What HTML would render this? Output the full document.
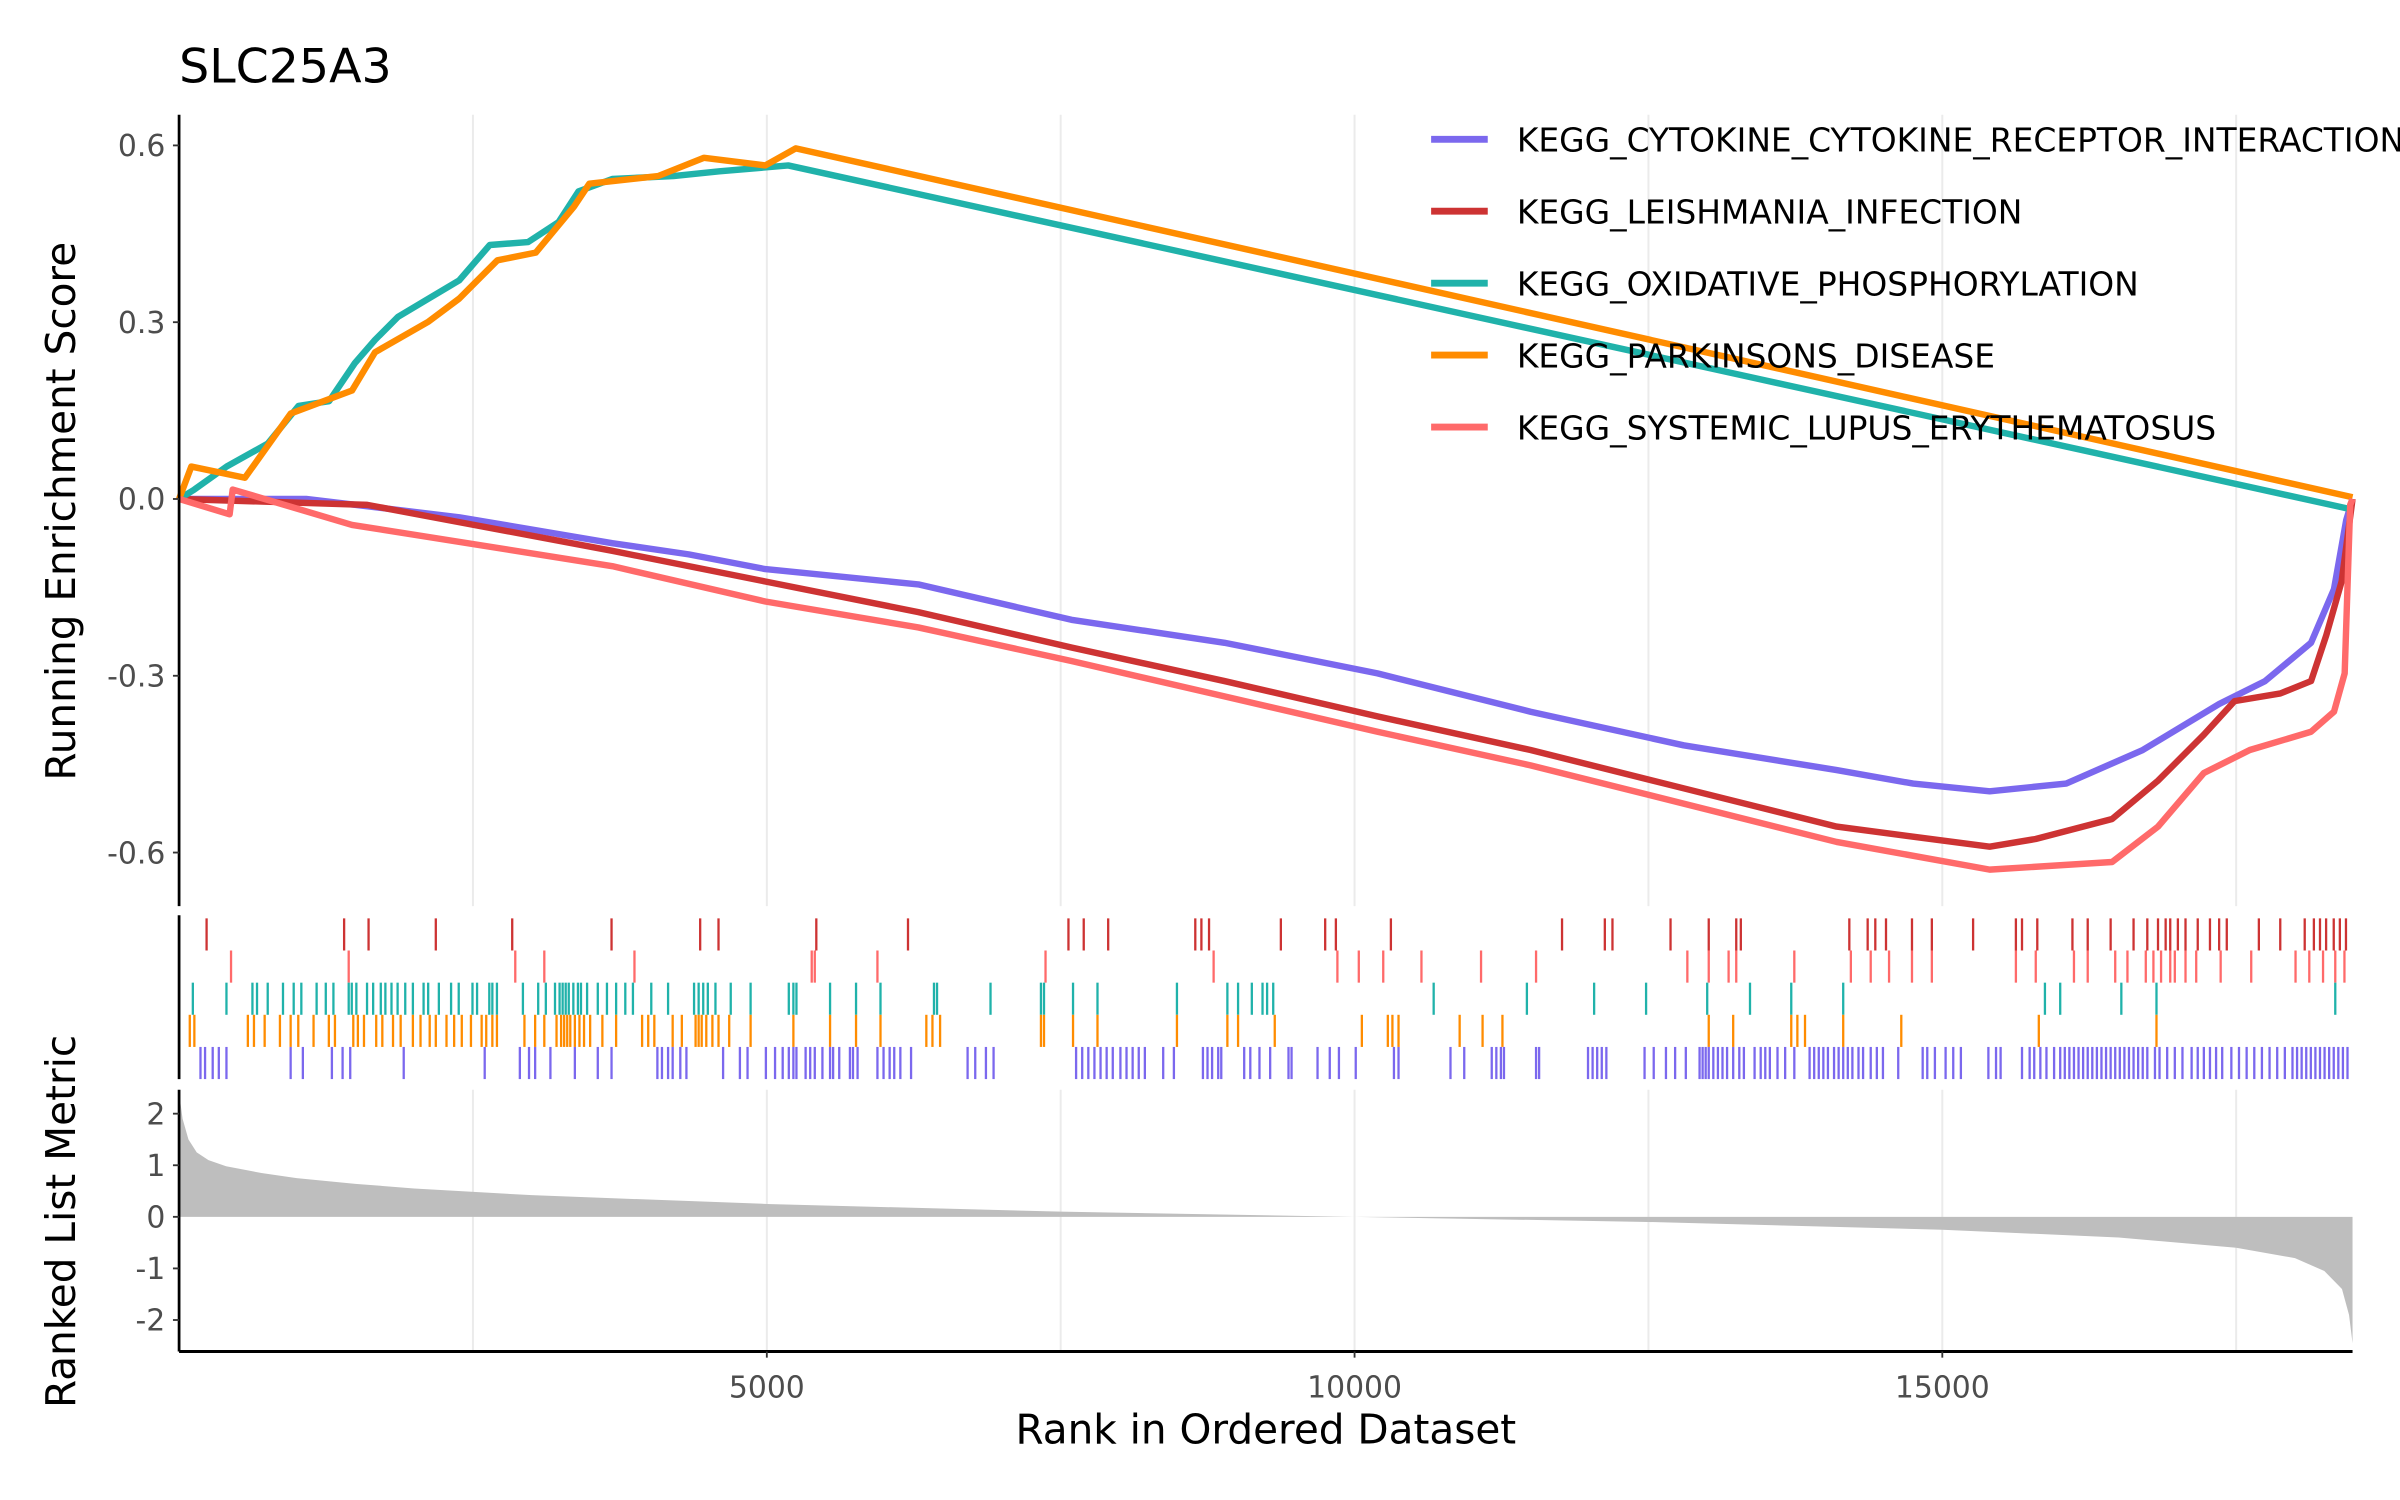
<!DOCTYPE html>
<html><head><meta charset="utf-8"><style>
html,body{margin:0;padding:0;background:#fff;overflow:hidden;}
svg{display:block;font-family:"DejaVu Sans","Liberation Sans",sans-serif;}
</style></head><body>
<svg id="chart" width="2400" height="1500" viewBox="0 0 1568 980" xmlns="http://www.w3.org/2000/svg">
<g id="grid"></g>
<g id="rug"></g>
<g id="metric"></g>
<g id="curves"></g>
<g id="axes"></g>
<g id="legend"></g>
<text x="117" y="54" font-size="31" fill="#000">SLC25A3</text>
<text transform="translate(49,334) rotate(-90)" text-anchor="middle" font-size="26.5" fill="#000">Running Enrichment Score</text>
<text transform="translate(49,798) rotate(-90)" text-anchor="middle" font-size="26.5" fill="#000">Ranked List Metric</text>
<text x="827" y="943" text-anchor="middle" font-size="26.5" fill="#000">Rank in Ordered Dataset</text>
</svg>
<script>
const seriesNames = ["KEGG_CYTOKINE_CYTOKINE_RECEPTOR_INTERACTION","KEGG_LEISHMANIA_INFECTION","KEGG_OXIDATIVE_PHOSPHORYLATION","KEGG_PARKINSONS_DISEASE","KEGG_SYSTEMIC_LUPUS_ERYTHEMATOSUS"];
const seriesColors = ["#7B68EE","#CD3333","#20B2AA","#FF8C00","#FF6A6A"];
const xTicks = [5000,10000,15000];
const xGrid = [2500,5000,7500,10000,12500,15000,17500];
const esTicks = [0.6,0.3,0.0,-0.3,-0.6];
const esTickLabels = ["0.6","0.3","0.0","-0.3","-0.6"];
const metricTicks = [2,1,0,-1,-2];
const nGenes = 18490;

const purpleRank = [0,1081,2383,3685,4336,4987,6289,7591,8893,10195,11497,12799,14101,14752,15403,16054,16705,17355,17746,18137,18332,18436,18490];
const purpleES = [0,0,-0.031,-0.075,-0.094,-0.119,-0.145,-0.205,-0.244,-0.296,-0.361,-0.418,-0.460,-0.483,-0.496,-0.483,-0.426,-0.348,-0.309,-0.244,-0.153,-0.036,0];
const redRank = [0,1601,3685,4987,6289,7591,8893,10195,11497,12799,14101,15403,15794,16445,16835,17225,17486,17876,18137,18267,18397,18490];
const redES = [0,-0.010,-0.088,-0.140,-0.192,-0.252,-0.309,-0.369,-0.426,-0.491,-0.556,-0.590,-0.577,-0.543,-0.478,-0.400,-0.343,-0.330,-0.309,-0.231,-0.140,0];
const tealRank = [0,130,404,755,1016,1276,1497,1667,1862,2122,2383,2643,2969,3229,3398,3685,4206,4596,5182,18490];
const tealES = [0,0.016,0.055,0.094,0.158,0.166,0.231,0.270,0.309,0.340,0.371,0.431,0.436,0.470,0.522,0.543,0.548,0.556,0.566,-0.018];
const orangeRank = [0,104,560,950,1471,1667,2122,2383,2708,3034,3359,3490,4075,4466,4987,5247,18490];
const orangeES = [0,0.055,0.036,0.145,0.184,0.249,0.301,0.340,0.405,0.418,0.496,0.535,0.548,0.579,0.566,0.595,0.003];
const pinkRank = [0,430,456,1471,3685,4987,6289,7591,8893,10195,11497,12799,14101,15403,16445,16835,17225,17616,18137,18332,18423,18470,18490];
const pinkES = [0,-0.026,0.016,-0.044,-0.114,-0.174,-0.218,-0.275,-0.335,-0.395,-0.452,-0.517,-0.582,-0.629,-0.616,-0.556,-0.465,-0.426,-0.395,-0.361,-0.296,-0.010,0];

const redHits = [234,1404,1612,2184,2834,3679,4433,4589,5421,6201,7566,7696,7904,8645,8697,8762,9373,9750,9841,10309,11765,12129,12194,12688,13013,13247,13286,14209,14365,14430,14521,14742,14911,15262,15626,15678,15808,16107,16237,16432,16627,16744,16835,16900,16939,17004,17069,17173,17277,17355,17420,17693,17875,18083,18161,18213,18265,18330,18382,18434];
const pinkHits = [442,1443,2860,3107,3874,5382,5408,5941,7371,8801,9854,10036,10244,10569,11076,11544,12831,13013,13182,13247,13741,14222,14391,14547,14742,14911,15626,15795,16120,16237,16471,16575,16731,16796,16861,16939,16978,17069,17160,17368,17628,18005,18122,18239,18343,18421];
const tealHits = [117,403,624,663,754,884,975,1040,1170,1248,1313,1443,1469,1508,1599,1651,1716,1755,1807,1859,1924,1989,2080,2119,2210,2314,2379,2496,2535,2639,2665,2704,2925,3055,3120,3198,3237,3263,3289,3315,3354,3393,3419,3471,3562,3640,3718,3796,3861,4017,4160,4381,4420,4459,4498,4563,4693,4862,5187,5226,5252,5538,5759,5967,6422,6448,6903,7332,7358,7605,7813,8489,8918,9009,9126,9217,9256,9308,10673,11466,12038,12480,13000,13364,13715,14157,15873,16003,16523,16822,18343];
const orangeHits = [91,130,585,637,728,858,949,1014,1144,1274,1326,1482,1521,1573,1677,1729,1820,1885,1989,2054,2132,2184,2275,2340,2405,2483,2574,2613,2665,2704,2938,3029,3107,3211,3250,3276,3302,3328,3367,3406,3445,3497,3601,3718,3939,3991,4043,4199,4277,4394,4420,4446,4485,4537,4589,4680,4862,5226,5538,5759,5967,6357,6409,6474,7332,7358,7605,7813,8489,8918,9009,9321,10062,10283,10322,10374,10894,11089,11258,13013,13221,13715,13767,13832,14157,14651,15821,16822];
const purpleHits = [182,221,286,338,403,949,1053,1300,1391,1456,1911,2600,2899,2977,3029,3159,3367,3562,3679,4069,4108,4160,4199,4264,4316,4628,4771,4836,4992,5070,5135,5187,5226,5252,5330,5369,5408,5473,5538,5564,5616,5707,5733,5772,5941,5993,6045,6084,6136,6227,6708,6773,6864,6929,7631,7683,7735,7787,7839,7891,7943,8008,8060,8112,8164,8216,8372,8463,8710,8749,8788,8840,8866,9061,9113,9191,9282,9438,9464,9685,9789,9867,10010,10335,10374,10816,10933,11167,11206,11245,11271,11544,11570,11986,12025,12064,12103,12142,12467,12545,12649,12727,12818,12935,12961,12987,13013,13052,13091,13130,13169,13221,13273,13312,13403,13455,13494,13533,13598,13663,13741,13871,13910,13949,13988,14027,14079,14118,14157,14196,14235,14287,14326,14391,14443,14495,14625,14833,14872,14937,15028,15093,15158,15392,15457,15496,15678,15743,15782,15834,15886,15951,16003,16042,16081,16120,16159,16198,16237,16276,16315,16354,16393,16432,16471,16510,16549,16588,16627,16666,16705,16744,16809,16848,16913,16978,17043,17121,17173,17225,17277,17329,17381,17459,17524,17589,17654,17719,17784,17849,17914,17979,18018,18057,18096,18135,18174,18213,18252,18291,18330,18369,18408,18447];

const metricRank = [0,30,80,150,250,400,700,1000,1500,2000,3000,5000,7500,10000,12500,15000,16500,17500,18000,18250,18400,18460,18490];
const metricValue = [2.4,1.9,1.5,1.25,1.1,0.98,0.85,0.75,0.64,0.55,0.42,0.25,0.1,0.0,-0.1,-0.25,-0.4,-0.6,-0.8,-1.05,-1.4,-1.9,-2.45];

const NS="http://www.w3.org/2000/svg";
const X0=117, X1=1537, ES_TOP=75, ES_BOT=592, RUG_TOP=598, RUG_BOT=705, M_TOP=712, M_BOT=883;
function xs(r){return X0 + r/nGenes*(X1-X0);}
function yes(v){return 326 - v*385;}
function ym(v){return 795 - v*33.7;}
function mk(tag, attrs, parent){const e=document.createElementNS(NS,tag);for(const k in attrs)e.setAttribute(k,attrs[k]);parent.appendChild(e);return e;}

const grid=document.getElementById('grid');
xGrid.forEach(g=>{
  const l1=mk('line',{x1:xs(g),x2:xs(g),y1:ES_TOP,y2:ES_BOT,stroke:'#EBEBEB','stroke-width':1.3},grid);
  
  
  const l2=mk('line',{x1:xs(g),x2:xs(g),y1:M_TOP,y2:M_BOT,stroke:'#EBEBEB','stroke-width':1.3},grid);
  
  
});

const rug=document.getElementById('rug');
const rugRows=[[redHits,1],[pinkHits,4],[tealHits,2],[orangeHits,3],[purpleHits,0]];
const rowH=(RUG_BOT-600)/5;
rugRows.forEach((row,i)=>{
  const hits=row[0], col=seriesColors[row[1]];
  const y1=600+i*rowH, y2=y1+rowH;
  hits.forEach(h=>{
    const t=mk('line',{x1:xs(h),x2:xs(h),y1:y1,y2:y2,stroke:col,'stroke-width':1.5},rug);
    
    
  });
});

const metric=document.getElementById('metric');
let d='M'+xs(metricRank[0])+','+ym(0);
metricRank.forEach((r,i)=>{d+=' L'+xs(r).toFixed(2)+','+ym(metricValue[i]).toFixed(2);});
d+=' L'+xs(metricRank[metricRank.length-1])+','+ym(0)+' Z';
const area=mk('path',{d:d,fill:'#BEBEBE',stroke:'none'},metric);



const curves=document.getElementById('curves');
const curveData=[[purpleRank,purpleES,0],[redRank,redES,1],[tealRank,tealES,2],[orangeRank,orangeES,3],[pinkRank,pinkES,4]];
const cnames=['es-curve-cytokine','es-curve-leishmania','es-curve-oxphos','es-curve-parkinsons','es-curve-sle'];
curveData.forEach((c,k)=>{
  const pts=c[0].map((r,i)=>xs(r).toFixed(2)+','+yes(c[1][i]).toFixed(2)).join(' ');
  const p=mk('polyline',{points:pts,fill:'none',stroke:seriesColors[c[2]],'stroke-width':4.2,'stroke-linejoin':'round'},curves);
  
  
});

const axes=document.getElementById('axes');
const ya=mk('line',{x1:X0,x2:X0,y1:ES_TOP,y2:ES_BOT,stroke:'#000','stroke-width':1.8},axes);


const yr=mk('line',{x1:X0,x2:X0,y1:RUG_TOP,y2:RUG_BOT,stroke:'#000','stroke-width':1.8},axes);


const ym2=mk('line',{x1:X0,x2:X0,y1:M_TOP,y2:M_BOT,stroke:'#000','stroke-width':1.8},axes);


const xa=mk('line',{x1:X0,x2:X1,y1:M_BOT,y2:M_BOT,stroke:'#000','stroke-width':2},axes);


esTicks.forEach((v,i)=>{
  const t=mk('line',{x1:X0-4,x2:X0,y1:yes(v),y2:yes(v),stroke:'#333','stroke-width':1.2},axes);
  
  
  const l=mk('text',{x:X0-9,y:yes(v)+7,'text-anchor':'end','font-size':19.5,fill:'#4D4D4D'},axes);
  l.textContent=esTickLabels[i];
  
  
});
metricTicks.forEach(v=>{
  const t=mk('line',{x1:X0-4,x2:X0,y1:ym(v),y2:ym(v),stroke:'#333','stroke-width':1.2},axes);
  
  
  const l=mk('text',{x:X0-9,y:ym(v)+7,'text-anchor':'end','font-size':19.5,fill:'#4D4D4D'},axes);
  l.textContent=String(v);
  
  
});
xTicks.forEach(v=>{
  const t=mk('line',{x1:xs(v),x2:xs(v),y1:M_BOT,y2:M_BOT+4,stroke:'#333','stroke-width':1.2},axes);
  
  
  const l=mk('text',{x:xs(v),y:M_BOT+30,'text-anchor':'middle','font-size':19.5,fill:'#4D4D4D'},axes);
  l.textContent=String(v);
  
  
});

const legend=document.getElementById('legend');
seriesNames.forEach((n,i)=>{
  const y=91+i*47;
  const k=mk('line',{x1:935,x2:972,y1:y,y2:y,stroke:seriesColors[i],'stroke-width':4.5},legend);
  
  
  const t=mk('text',{x:991,y:y+8,'font-size':21.5,fill:'#000'},legend);
  t.textContent=n;
  
  
});
</script>
</body></html>
